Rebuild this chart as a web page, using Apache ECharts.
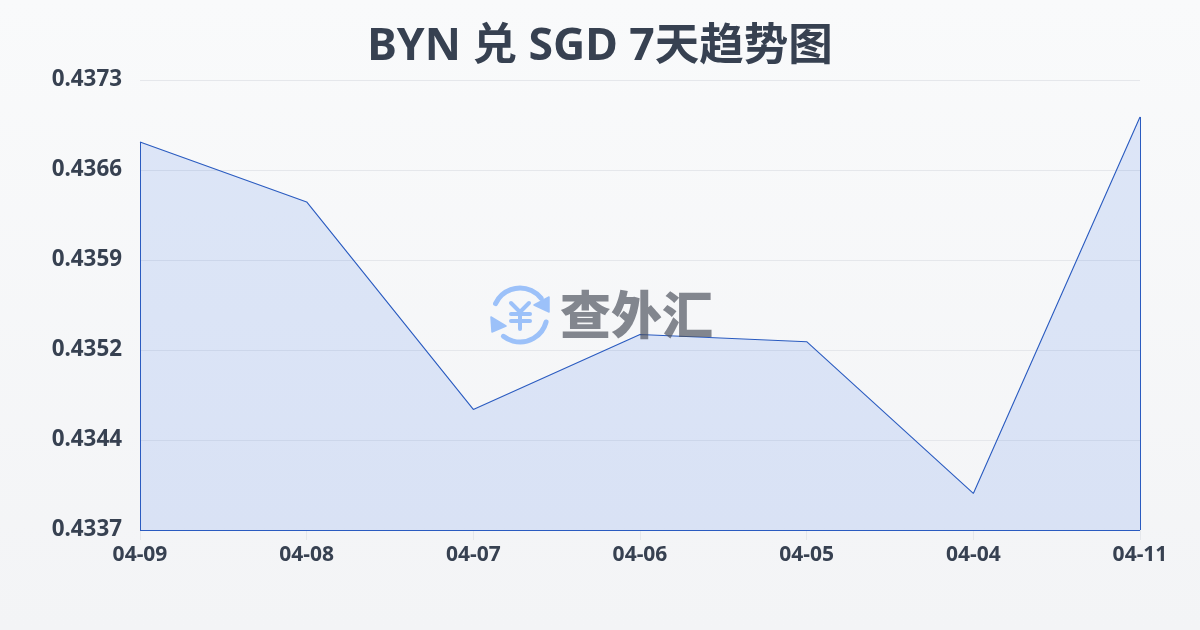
<!DOCTYPE html>
<html><head><meta charset="utf-8">
<style>html,body{margin:0;padding:0;background:#f6f7fa}#c{width:1200px;height:630px}</style>
<script src="https://cdn.jsdelivr.net/npm/echarts@6/dist/echarts.min.js"></script>
</head><body><div id="c"></div>
<script>
const titleText = 'BYN 兑 SGD 7天趋势图';
const categories = ['04-09','04-08','04-07','04-06','04-05','04-04','04-11'];
const rates = [0.436832,0.436349,0.434677,0.435281,0.435223,0.434000,0.437034];
const yTick = 0.00072526;
const yMin = yTick*598;
const yMax = yTick*603;
const LINE = '#2a5bc0';
const TEXT = '#374151';
const FONT = '"Noto Sans","Noto Sans CJK SC",sans-serif';

const last = categories.length-1;
const closing = [
  [{coord:[categories[0],yMin]},{coord:[categories[0],rates[0]]}],
  [{coord:[categories[0],yMin]},{coord:[categories[last],yMin]}],
  [{coord:[categories[last],yMin]},{coord:[categories[last],rates[last]]}]
];
const chart = echarts.init(document.getElementById('c'),null,{renderer:'canvas'});
const LOGO = '#9cc1f9';
const wmStroke = {stroke:LOGO,lineWidth:5,fill:null,lineCap:'round',lineJoin:'round'};
const yenStroke = {stroke:LOGO,lineWidth:4,fill:null,lineCap:'round',lineJoin:'round'};
const arrowStyle = {fill:LOGO,stroke:LOGO,lineWidth:1.5,lineJoin:'round'};
const deg = d=>d*Math.PI/180;
chart.setOption({
  animation:false,
  backgroundColor:{type:'linear',x:0,y:0,x2:0,y2:1,colorStops:[{offset:0,color:'#f9fafb'},{offset:1,color:'#f3f4f6'}]},
  title:{text:titleText,left:'center',top:20,textStyle:{fontFamily:FONT,fontSize:44.5,fontWeight:'bold',color:TEXT}},
  grid:{left:140,right:60,top:80,bottom:100},
  xAxis:{type:'category',data:categories,boundaryGap:false,
    axisLine:{show:false},
    axisTick:{show:true,length:10,lineStyle:{color:'#e5e7eb'}},
    axisLabel:{color:TEXT,fontFamily:FONT,fontSize:21,fontWeight:'bold',margin:15,hideOverlap:false,interval:0},
    splitLine:{show:false}},
  yAxis:{type:'value',min:yMin,max:yMax,interval:yTick,
    axisLine:{show:false},axisTick:{show:false},
    axisLabel:{color:TEXT,fontFamily:FONT,fontSize:22.4,fontWeight:'bold',margin:18,formatter:v=>v.toFixed(4)},
    splitLine:{show:true,lineStyle:{color:'#e5e7eb',width:1}}},
  series:[{type:'line',data:rates,symbol:'none',smooth:false,
    lineStyle:{color:LINE,width:1.1},
    areaStyle:{color:'rgba(37,99,235,0.13)',opacity:1},
    markLine:{silent:true,symbol:'none',label:{show:false},animation:false,
      lineStyle:{color:LINE,width:1,type:'solid'},data:closing},
    z:2}],
  graphic:[
    {type:'text',z:10,silent:true,style:{x:560,y:289,text:'查外汇',font:'900 51px "Noto Sans CJK SC"',fill:'rgba(75,80,92,0.68)'}},
    {type:'arc',z:10,silent:true,shape:{cx:520,cy:315,r:27,startAngle:deg(205),endAngle:deg(322),clockwise:true},style:wmStroke},
    {type:'arc',z:10,silent:true,shape:{cx:520,cy:315,r:27,startAngle:deg(15),endAngle:deg(128),clockwise:true},style:wmStroke},
    {type:'polygon',z:10,silent:true,shape:{points:[[549,297],[549,312],[534,305]]},style:arrowStyle},
    {type:'polygon',z:10,silent:true,shape:{points:[[491,317],[506,326],[492,332]]},style:arrowStyle},
    {type:'polyline',z:10,silent:true,shape:{points:[[511,303],[520,312],[529,303]]},style:yenStroke},
    {type:'polyline',z:10,silent:true,shape:{points:[[511,314],[530,314]]},style:yenStroke},
    {type:'polyline',z:10,silent:true,shape:{points:[[511,321],[530,321]]},style:yenStroke},
    {type:'polyline',z:10,silent:true,shape:{points:[[520,312],[520,329]]},style:yenStroke}
  ]
});
</script></body></html>
